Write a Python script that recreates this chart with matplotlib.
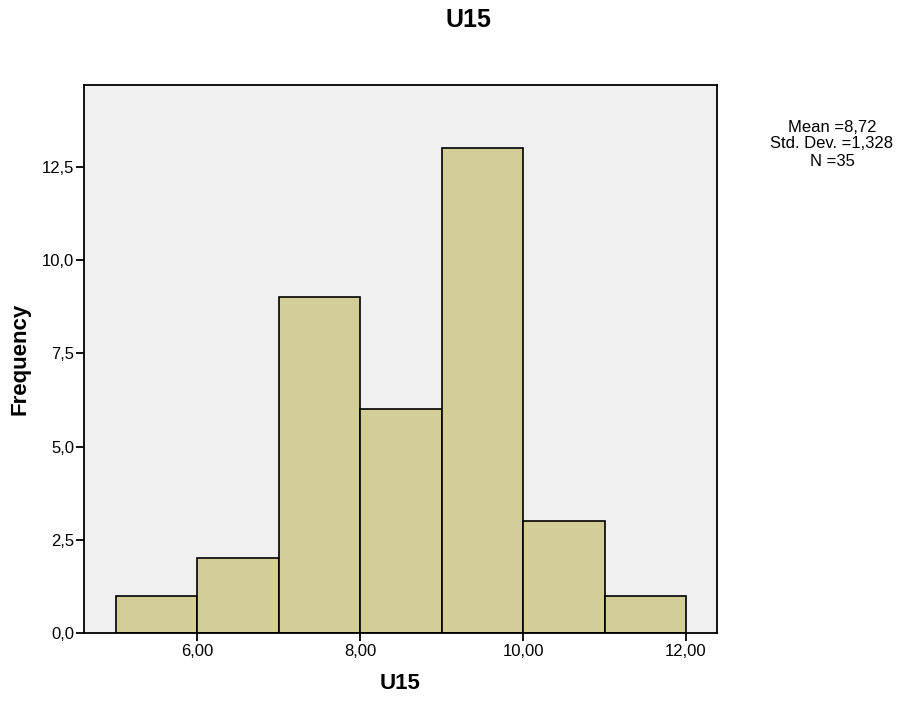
import matplotlib
matplotlib.use('Agg')
import matplotlib.pyplot as plt
import numpy as np

# histogram data for U15
bin_edges = [5, 6, 7, 8, 9, 10, 11, 12]
counts = [1, 2, 9, 6, 13, 3, 1]
x_ticks = [6, 8, 10, 12]
y_ticks = [0, 2.5, 5, 7.5, 10, 12.5]
stats_lines = ["Mean =8,72", "Std. Dev. =1,328", "N =35"]

plt.rcParams['font.family'] = ['Liberation Sans', 'DejaVu Sans']

fig = plt.figure(figsize=(9.02, 7.10), dpi=100)
ax = fig.add_axes([0.0931, 0.1085, 0.7018, 0.7718])
ax.set_facecolor('#F0F0F0')

lefts = bin_edges[:-1]
widths = np.diff(bin_edges)
ax.bar(lefts, counts, width=widths, align='edge', color='#D3CE97',
       edgecolor='black', linewidth=1.2, zorder=2)

ax.set_xlim(4.607, 12.38)
ax.set_ylim(0, 14.7)
ax.set_xticks(x_ticks)
ax.set_xticklabels([("%.2f" % v).replace('.', ',') for v in x_ticks])
ax.set_yticks(y_ticks)
ax.set_yticklabels([("%.1f" % v).replace('.', ',') for v in y_ticks])
ax.tick_params(direction='out', length=6, width=1.3, labelsize=12, pad=2)
ax.tick_params(axis='y', pad=1)
for s in ax.spines.values():
    s.set_linewidth(1.3)

ax.set_xlabel('U15', fontsize=16, fontweight='bold', labelpad=10)
ax.set_ylabel('Frequency', fontsize=16, fontweight='bold', labelpad=8)
fig.text(468 / 902, 1 - 20 / 710, 'U15', fontsize=18, fontweight='bold',
         ha='center', va='center')

for i, line in enumerate(stats_lines):
    fig.text(832 / 902, 1 - (127 + 17 * i) / 710, line, fontsize=12,
             ha='center', va='center')

fig.savefig('out.png', dpi=100)
